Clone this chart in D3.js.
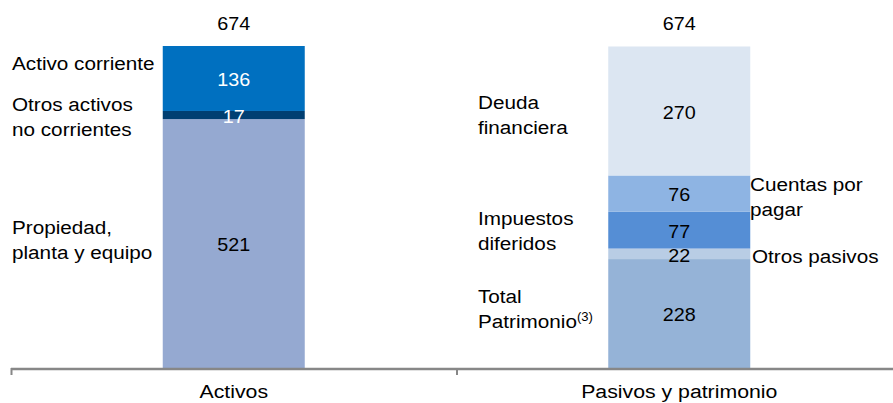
<!DOCTYPE html>
<html>
<head>
<meta charset="utf-8">
<script src="https://cdn.jsdelivr.net/npm/d3@7"></script>
<style>
  html, body { margin: 0; padding: 0; background: #fff; }
  svg { display: block; font-family: "Liberation Sans", Arial, sans-serif; }
</style>
</head>
<body>
<svg id="chart" width="893" height="403"></svg>
<script>
// ---- Data ----
const categories = ["Activos", "Pasivos y patrimonio"];
const activosLabels = ["Propiedad, planta y equipo", "Otros activos no corrientes", "Activo corriente"];
const activosValues = [521, 17, 136];
const pasivosLabels = ["Total Patrimonio", "Otros pasivos", "Impuestos diferidos", "Cuentas por pagar", "Deuda financiera"];
const pasivosValues = [228, 22, 77, 76, 270];
const totals = [674, 674];

// ---- Styles / layout ----
const activosColors = ["#95A9D1", "#003F72", "#0070C0"];
const pasivosColors = ["#95B3D7", "#B9CDE5", "#558ED5", "#8EB4E3", "#DCE6F2"];
const activosTextColors = ["#000", "#fff", "#fff"];
const pasivosTextColors = ["#000", "#000", "#000", "#000", "#000"];
const FS = 19, SX = 1.09, LH = 25;

const svg = d3.select("#chart");
const baseY = 368;
const x = d3.scaleBand().domain(categories).range([11, 902]).paddingInner(0).paddingOuter(0);
const y = d3.scaleLinear().domain([0, 674]).range([baseY, 46]);
const barW = 142;

function stack(values) {
  let acc = 0;
  return values.map(v => { const d = { y0: acc, y1: acc + v, v }; acc += v; return d; });
}

// text helper with horizontal stretch
function txt(g, xx, yy, lines, opts = {}) {
  const anchor = opts.anchor || "start";
  const t = g.append("g").attr("transform", `translate(${xx},${yy}) scale(${opts.sx || SX},1)`)
    .append("text")
    .attr("font-size", opts.fs || FS)
    .attr("fill", opts.fill || "#000")
    .attr("text-anchor", anchor)
    .attr("dominant-baseline", "central");
  const n = lines.length;
  lines.forEach((ln, i) => {
    const ts = t.append("tspan").attr("x", 0).attr("y", (i - (n - 1) / 2) * LH);
    if (Array.isArray(ln)) {
      ts.text(ln[0]);
      t.append("tspan").attr("font-size", 12).attr("dy", -4).text(ln[1]);
    } else ts.text(ln);
  });
  return t;
}

const series = [
  { cat: categories[0], values: activosValues, colors: activosColors, tcol: activosTextColors },
  { cat: categories[1], values: pasivosValues, colors: pasivosColors, tcol: pasivosTextColors }
];

series.forEach((s, si) => {
  const cx = x(s.cat) + x.bandwidth() / 2;
  const st = stack(s.values);
  const g = svg.append("g");
  g.selectAll("rect").data(st).join("rect")
    .attr("x", cx - barW / 2)
    .attr("width", barW)
    .attr("y", d => y(d.y1))
    .attr("height", d => y(d.y0) - y(d.y1))
    .attr("fill", (d, i) => s.colors[i]);
  st.forEach((d, i) => {
    txt(g, cx, (y(d.y0) + y(d.y1)) / 2 + 1, [String(d.v)], { anchor: "middle", fill: s.tcol[i], sx: 1.04 });
  });
  txt(g, cx, 23, [String(totals[si])], { anchor: "middle", sx: 1.04 });
});

// ---- Segment annotations ----
const ann = svg.append("g");
const aSt = stack(activosValues);
const pSt = stack(pasivosValues);
const mid = d => (y(d.y0) + y(d.y1)) / 2;
txt(ann, 12, mid(aSt[2]) - 15, ["Activo corriente"]);
txt(ann, 12, mid(aSt[1]) + 2, ["Otros activos", "no corrientes"]);
txt(ann, 12, mid(aSt[0]) - 4, ["Propiedad,", "planta y equipo"]);
txt(ann, 478, mid(pSt[4]) + 4, ["Deuda", "financiera"]);
txt(ann, 750, mid(pSt[3]) + 3, ["Cuentas por", "pagar"]);
txt(ann, 478, mid(pSt[2]) + 1, ["Impuestos", "diferidos"]);
txt(ann, 752, mid(pSt[1]) + 2, ["Otros pasivos"]);
txt(ann, 478, mid(pSt[0]) - 5, ["Total", ["Patrimonio", "(3)"]]);

// ---- Axis ----
const ax = svg.append("g");
ax.append("line").attr("x1", x.range()[0]).attr("x2", 893)
  .attr("y1", baseY + 1).attr("y2", baseY + 1)
  .attr("stroke", "#878787").attr("stroke-width", 2.5);
const tickXs = categories.map(c => x(c)).concat([x.range()[1]]);
ax.selectAll("line.tick").data(tickXs).join("line").attr("class", "tick")
  .attr("x1", d => d + 0.5).attr("x2", d => d + 0.5)
  .attr("y1", baseY).attr("y2", baseY + 7)
  .attr("stroke", "#878787").attr("stroke-width", 2);
categories.forEach(c => {
  txt(ax, x(c) + x.bandwidth() / 2, 391, [c], { anchor: "middle", fs: 19, sx: 1.12 });
});
</script>
</body>
</html>
